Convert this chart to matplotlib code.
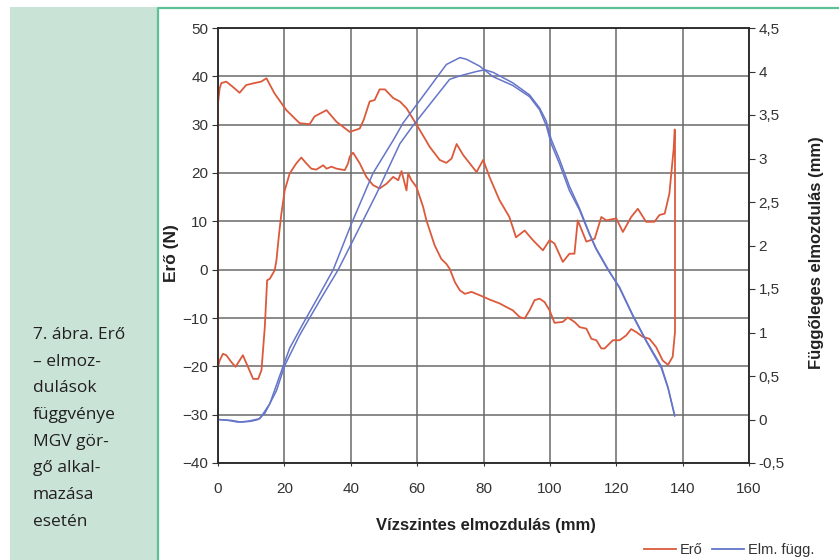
import matplotlib.pyplot as plt
from matplotlib.patches import Rectangle
from matplotlib.lines import Line2D

# --- adatok ---
# Erő, felső ág (előre), mm / N
ero_fel_x = [0, 0.5, 1, 2.5, 4.5, 6.5, 8.5, 11.6, 13, 14.6, 17, 20.6, 24.6, 27.6, 29.1,
             32.7, 35.7, 39.7, 42.7, 43.9, 45.7, 47.2, 48.7, 50.3, 52.8, 54.8, 56.8,
             60.8, 63.8, 66.8, 68.8, 70.4, 71.9, 73.9, 77.9, 79.9, 81.8, 84.8, 87.8,
             89.8, 92.4, 94.9, 97.9, 99.9, 101.4, 103.9, 105.9, 107.4, 108.4, 111,
             113.5, 115.5, 117, 120, 122, 124.5, 126.5, 129, 131.5, 133, 134.6, 136,
             137.3, 137.6]
ero_fel_y = [34.4, 37.5, 38.6, 38.9, 37.8, 36.6, 38.2, 38.7, 38.9, 39.6, 36.5, 33, 30.3,
             30.1, 31.7, 33, 30.6, 28.5, 29.2, 31, 34.8, 35.1, 37.3, 37.3, 35.5, 34.8,
             33.4, 28.9, 25.4, 22.7, 22.1, 23, 26, 23.7, 20.2, 22.7, 19.2, 14.4, 10.9,
             6.7, 8.1, 6.1, 4, 6.1, 5.4, 1.6, 3.3, 3.3, 10.2, 5.8, 6.4, 10.9, 10.2,
             10.6, 7.8, 10.9, 12.6, 9.9, 9.9, 11.3, 11.6, 15.7, 25, 29]

# Erő, alsó ág (vissza)
ero_le_x = [137.7, 137.7, 137, 135.6, 134, 132, 130, 128, 126, 124.5, 123, 121, 119,
            116.5, 115.5, 114, 112.5, 111, 109, 107.4, 105.4, 103.9, 101.4, 99.9, 98.4,
            96.9, 95.4, 93.9, 92.4, 90.9, 88.8, 86.8, 84.9, 81.9, 78.9, 76.4, 74.4,
            72.9, 71.4, 69.8, 68.8, 67.3, 65.3, 62.8, 61.8, 59.8, 58.3, 57.3, 56.8,
            55.3, 54.3, 52.8, 50.8, 48.7, 46.7, 44.7, 42.7, 40.7, 39.7, 39.2, 38.2,
            35.7, 34.2, 32.7, 31.7, 29.6, 28.1, 26.6, 25.1, 23.6, 21.6, 20.1, 19.1,
            18.4, 17.6, 17.1, 15.6, 14.8, 14.1, 13.1, 12.1, 10.6, 9, 7.5, 6.5, 5.3, 4,
            2.5, 1.5, 0.5, 0, 0]
ero_le_y = [28.5, -12.9, -18, -19.7, -18.8, -16, -14.3, -13.9, -12.9, -12.3, -13.6,
            -14.6, -14.6, -16.3, -16.3, -14.6, -14.3, -12.2, -11.9, -10.8, -9.9, -10.8,
            -11, -8.4, -6.7, -6, -6.3, -8.4, -10.1, -9.8, -8.4, -7.7, -7, -6.2, -5.3,
            -4.6, -5, -4.3, -2.6, 0.2, 1.2, 2.2, 5, 10.2, 13, 17.1, 18.5, 19.9, 16.4,
            20.4, 18.5, 19.2, 17.8, 16.8, 17.5, 19.2, 22, 24.2, 23.4, 22, 20.6, 20.9,
            21.3, 20.9, 21.6, 20.7, 20.9, 22, 23.2, 22, 19.9, 16.4, 11.6, 7.4, 1.9,
            -0.1, -1.9, -2.2, -11.9, -20.8, -22.6, -22.6, -20.1, -17.7, -18.8, -20.1,
            -19.1, -17.7, -17.4, -18.8, -20.1, 34.4]

# Függőleges elmozdulás (mm), két görbe
elm1_x = [0, 3, 6, 9, 12.6, 15.6, 19.6, 21.6, 25.6, 29.6, 34.7, 40.2, 46.7, 52.8, 55.8,
          62.8, 68.8, 72.9, 74.9, 78.9, 82.9, 88.8, 93.9, 96.9, 98.9, 100.4, 102.9,
          105.9, 108.9, 111.9, 113.9, 117.5, 121, 125, 129, 133.6, 135.6, 137.6]
elm1_y = [0, -0.01, -0.03, -0.02, 0.01, 0.18, 0.61, 0.82, 1.10, 1.37, 1.72, 2.25, 2.83,
          3.21, 3.41, 3.77, 4.08, 4.16, 4.14, 4.06, 3.94, 3.84, 3.71, 3.56, 3.38, 3.17,
          2.94, 2.63, 2.41, 2.13, 1.96, 1.72, 1.52, 1.20, 0.91, 0.61, 0.37, 0.05]
elm2_x = [0, 4, 7, 10, 12.1, 14.1, 17.6, 20.1, 24.6, 30.7, 36.2, 40.7, 47.7, 54.8, 58.8,
          64.8, 69.8, 72.9, 77.9, 80.4, 82.9, 88.8, 93.9, 96.9, 98.9, 100.4, 102.9,
          105.9, 108.9, 111.9, 113.9, 117.5, 121, 125, 129, 133.6, 135.6, 137.6]
elm2_y = [0, -0.01, -0.03, -0.02, 0, 0.07, 0.33, 0.62, 0.97, 1.37, 1.72, 2.06, 2.59,
          3.17, 3.38, 3.67, 3.91, 3.95, 4.0, 4.02, 3.99, 3.87, 3.73, 3.58, 3.43, 3.22,
          2.99, 2.68, 2.43, 2.14, 1.97, 1.73, 1.51, 1.19, 0.90, 0.59, 0.36, 0.04]

x_ticks = [0, 20, 40, 60, 80, 100, 120, 140, 160]
bal_ticks = [-40, -30, -20, -10, 0, 10, 20, 30, 40, 50]
jobb_ticks = [-0.5, 0, 0.5, 1, 1.5, 2, 2.5, 3, 3.5, 4, 4.5]
jobb_labels = ['-0,5', '0', '0,5', '1', '1,5', '2', '2,5', '3', '3,5', '4', '4,5']

felirat = ['7. ábra. Erő', '– elmoz-', 'dulások', 'függvénye', 'MGV gör-',
           'gő alkal-', 'mazása', 'esetén']

PIROS = '#dc5a3c'
KEK = '#6575c8'
ZOLD_HATTER = '#c9e4d6'
ZOLD_VONAL = '#5cc296'

plt.rcParams['font.family'] = ['Liberation Sans', 'DejaVu Sans']

fig = plt.figure(figsize=(8.39, 5.6), dpi=100)
W, H = 839, 560

# bal oldali zöld sáv a képaláírással
fig.patches.append(Rectangle((10 / W, 0), 147 / W, 1 - 7 / H, transform=fig.transFigure,
                             facecolor=ZOLD_HATTER, edgecolor='none', zorder=0))
fig.add_artist(Line2D([157.5 / W, 157.5 / W, 1], [0, 1 - 7.5 / H, 1 - 7.5 / H],
                      transform=fig.transFigure, color=ZOLD_VONAL, lw=1.6))
for i, sor in enumerate(felirat):
    fig.text(33 / W, 1 - (339 + 26.7 * i) / H, sor, fontsize=12.5, color='#231f20',
             family=['Open Sans', 'DejaVu Sans'], va='baseline', ha='left')

ax = fig.add_axes([218 / W, 1 - 463 / H, 531 / W, 435 / H])
ax2 = ax.twinx()

ax.plot(ero_fel_x + ero_le_x, ero_fel_y + ero_le_y, color=PIROS, lw=1.3, zorder=3)
ax2.plot(elm1_x, elm1_y, color=KEK, lw=1.1)
ax2.plot(elm2_x, elm2_y, color=KEK, lw=1.1)

ax.set_xlim(0, 160)
ax.set_ylim(-40, 50)
ax2.set_ylim(-0.5, 4.5)
ax.set_xticks(x_ticks)
ax.set_yticks(bal_ticks)
ax2.set_yticks(jobb_ticks)
ax2.set_yticklabels(jobb_labels)

ax.grid(True, color='#6a6a6a', lw=1.1)
ax.set_axisbelow(True)
for a in (ax, ax2):
    for s in a.spines.values():
        s.set_color('#2a2a2a')
        s.set_linewidth(1.1)

ax.tick_params(axis='y', direction='out', length=4, width=0.8, pad=3,
               labelsize=11, colors='#333333')
ax.tick_params(axis='x', direction='out', length=2.5, width=0.8, pad=11,
               labelsize=11, colors='#333333')
ax2.tick_params(axis='y', direction='out', length=4, width=0.8, pad=3,
                labelsize=11, colors='#333333')

ax.set_xlabel('Vízszintes elmozdulás (mm)', fontsize=12, fontweight='bold', color='#222222')
ax.set_ylabel('Erő (N)', fontsize=12.5, fontweight='bold', color='#222222')
ax2.set_ylabel('Függőleges elmozdulás (mm)', fontsize=12, fontweight='bold',
               color='#222222', rotation=90)
ax.xaxis.set_label_coords(0.505, -0.127)
ax.yaxis.set_label_coords(-0.073, 0.483)
ax2.yaxis.set_label_coords(1.113, 0.483)

jel = [Line2D([], [], color=PIROS, lw=1.3), Line2D([], [], color=KEK, lw=1.3)]
fig.legend(jel, ['Erő', 'Elm. függ.'], loc='center', bbox_to_anchor=(729 / W, 1 - 550 / H),
           ncol=2, frameon=False, fontsize=10.5, handlelength=2.2, handletextpad=0.3,
           columnspacing=0.6, labelcolor='#333333')

fig.savefig('out.png', dpi=100)
